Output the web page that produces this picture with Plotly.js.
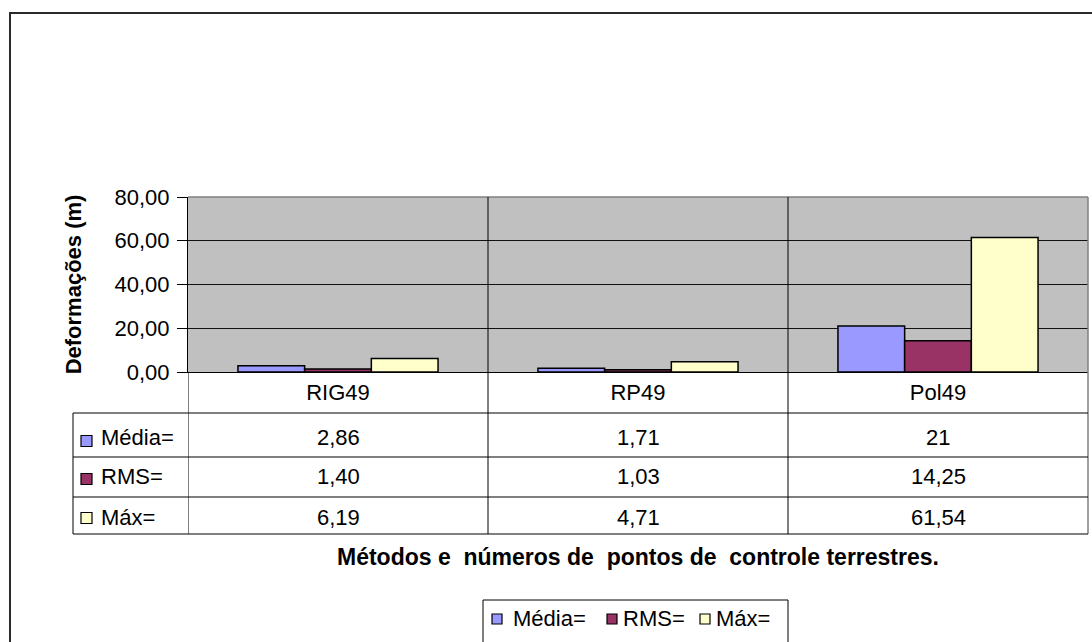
<!DOCTYPE html>
<html>
<head>
<meta charset="utf-8">
<script src="https://cdn.plot.ly/plotly-3.0.1.min.js"></script>
<style>html,body{margin:0;padding:0;background:#fff;}#chart{width:1092px;height:642px;}</style>
</head>
<body>
<div id="chart"></div>
<script>
// ---- data ----
const categories = ['RIG49', 'RP49', 'Pol49'];
const seriesNames = ['Média=', 'RMS=', 'Máx='];
const media = [2.86, 1.71, 21];
const rms = [1.40, 1.03, 14.25];
const maxv = [6.19, 4.71, 61.54];
const yTicks = [0, 20, 40, 60, 80];
const seriesColors = ['#9999FF', '#993366', '#FFFFCC'];

// ---- helpers ----
const W = 1092, H = 642;
const px = x => x / W;
const py = y => 1 - y / H;
const FONT = 'Arial, "Liberation Sans", sans-serif';
const FS = 22;
const fmt = v => Number.isInteger(v) ? String(v) : v.toFixed(2).replace('.', ',');

const allSeries = [media, rms, maxv];

const traces = allSeries.map((vals, i) => ({
  type: 'bar',
  name: seriesNames[i],
  x: [0, 1, 2],
  y: vals,
  marker: {color: seriesColors[i], line: {color: '#000', width: 1.5}},
  hoverinfo: 'skip',
  showlegend: false
}));

// geometry (pixels)
const plotL = 188, plotR = 1088, plotT = 197, plotB = 372;
const rowLines = [413, 457, 497, 534];
const rowCenters = [437, 476, 517];
const keyCenters = [441, 479, 518];
const tableL = 73, tableB = 534;

const shapes = [];
const line = (x0, y0, x1, y1, color, w, xref) => shapes.push({
  type: 'line', xref: xref || 'paper', yref: 'paper',
  x0: x0, y0: y0, x1: x1, y1: y1,
  line: {color: color || '#000', width: w || 1}
});

// outer frame
shapes.push({type: 'rect', xref: 'paper', yref: 'paper', x0: px(10), y0: py(13), x1: px(1110), y1: py(670),
  line: {color: '#2a2a2a', width: 2}, fillcolor: 'rgba(0,0,0,0)'});
// plot area top/right border
line(px(plotL), py(plotT), px(plotR), py(plotT), '#808080', 1.5);
line(px(plotR), py(plotT), px(plotR), py(tableB), '#808080', 1.5);
// category dividers (through plot and table)
[0.5, 1.5].forEach(xv => line(xv, py(plotT), xv, py(tableB), '#000', 1, 'x'));
line(-0.5, py(plotB), -0.5, py(tableB), '#000', 1, 'x');
// table horizontal lines
rowLines.forEach(y => line(px(tableL), py(y), px(plotR), py(y), '#000', 1));
line(px(tableL), py(rowLines[0]), px(tableL), py(tableB), '#000', 1);
// table legend keys
keyCenters.forEach((yc, i) => shapes.push({type: 'rect', xref: 'paper', yref: 'paper',
  x0: px(81), x1: px(92), y0: py(yc - 5.5), y1: py(yc + 5.5),
  fillcolor: seriesColors[i], line: {color: '#000', width: 1.2}}));

const annotations = [];
// row labels
seriesNames.forEach((n, i) => annotations.push({xref: 'paper', yref: 'paper', x: px(99), y: py(rowCenters[i]),
  xanchor: 'left', yanchor: 'middle', text: n, showarrow: false, font: {family: FONT, size: FS, color: '#000'}}));
// table values
allSeries.forEach((vals, i) => vals.forEach((v, j) => annotations.push({xref: 'x', yref: 'paper', x: j, y: py(rowCenters[i]),
  xanchor: 'center', yanchor: 'middle', text: fmt(v), showarrow: false, font: {family: FONT, size: FS, color: '#000'}})));
// x axis title
annotations.push({xref: 'paper', yref: 'paper', x: px(638), y: py(557), xanchor: 'center', yanchor: 'middle',
  text: '<b>Métodos e&nbsp; números de&nbsp; pontos de&nbsp; controle terrestres.</b>', showarrow: false,
  font: {family: FONT, size: 23, color: '#000'}});

// bottom legend (frame, keys, labels)
const legY = 618;
const legKeys = [492, 607, 700];
const legText = [511, 621, 714];
shapes.push({type: 'rect', xref: 'paper', yref: 'paper', x0: px(483), y0: py(600), x1: px(788), y1: py(680),
  line: {color: '#000', width: 1}, fillcolor: 'rgba(0,0,0,0)'});
seriesNames.forEach((n, i) => {
  shapes.push({type: 'rect', xref: 'paper', yref: 'paper', x0: px(legKeys[i]), x1: px(legKeys[i] + 10),
    y0: py(legY + 6), y1: py(legY - 4), fillcolor: seriesColors[i], line: {color: '#000', width: 1.2}});
  annotations.push({xref: 'paper', yref: 'paper', x: px(legText[i]), y: py(legY), xanchor: 'left', yanchor: 'middle',
    text: n, showarrow: false, font: {family: FONT, size: FS, color: '#000'}});
});

const layout = {
  width: W, height: H,
  margin: {l: 0, r: 0, t: 0, b: 0},
  paper_bgcolor: '#fff',
  plot_bgcolor: '#C0C0C0',
  separators: ',.',
  font: {family: FONT, size: FS, color: '#000'},
  barmode: 'group',
  bargap: 0.333,
  bargroupgap: 0,
  showlegend: false,
  xaxis: {
    domain: [px(plotL), px(plotR)], range: [-0.5, 2.5],
    tickvals: [0, 1, 2], ticktext: categories, ticks: '',
    ticklabelstandoff: 1,
    showgrid: false, zeroline: false, showline: true, linecolor: '#000', linewidth: 1,
    tickfont: {family: FONT, size: FS, color: '#000'}, automargin: false, fixedrange: true
  },
  yaxis: {
    domain: [py(plotB), py(plotT)], range: [0, 80],
    tickvals: yTicks, tickformat: '.2f', ticks: 'outside', ticklen: 10, tickcolor: '#000', tickwidth: 1,
    ticklabelstandoff: 3,
    showgrid: true, gridcolor: '#111', gridwidth: 1, zeroline: false,
    showline: true, linecolor: '#000', linewidth: 1,
    tickfont: {family: FONT, size: FS, color: '#000'},
    title: {text: '<b>Deformações (m)</b>', standoff: 26, font: {family: FONT, size: 22, color: '#000'}},
    automargin: false, fixedrange: true
  },
  shapes: shapes,
  annotations: annotations
};

Plotly.newPlot('chart', traces, layout, {displayModeBar: false, staticPlot: true});
</script>
</body>
</html>
